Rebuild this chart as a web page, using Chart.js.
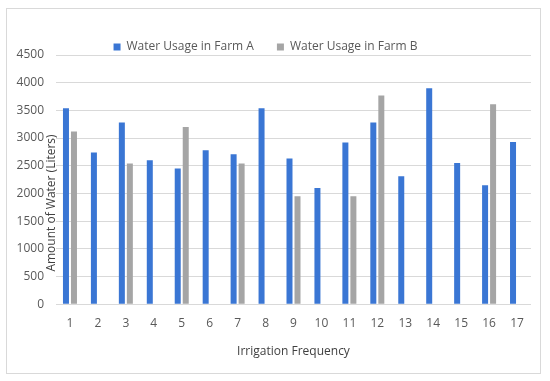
<!DOCTYPE html>
<html>
<head>
<meta charset="utf-8">
<script src="https://cdn.jsdelivr.net/npm/chart.js@4"></script>
<style>
  html, body { margin: 0; padding: 0; background: #ffffff; }
  #wrap { position: relative; width: 550px; height: 381px; }
  #frame { position: absolute; left: 6px; top: 8px; width: 533px; height: 364px; border: 1px solid #d9d9d9; pointer-events: none; }
  canvas { position: absolute; left: 0; top: 0; }
</style>
</head>
<body>
<div id="wrap">
  <div id="frame"></div>
  <canvas id="c" width="550" height="381"></canvas>
</div>
<script>
const categories = ['1','2','3','4','5','6','7','8','9','10','11','12','13','14','15','16','17'];
const farmA = [3540, 2740, 3280, 2600, 2450, 2780, 2710, 3540, 2630, 2100, 2920, 3280, 2310, 3900, 2550, 2150, 2930];
const farmB = [3120, 0, 2540, 0, 3200, 0, 2540, 0, 1950, 0, 1950, 3770, 0, 0, 0, 3610, 0];
const seriesNames = ['Water Usage in Farm A', 'Water Usage in Farm B'];
const xTitle = 'Irrigation Frequency';
const yTitle = 'Amount of Water (Liters)';

const FONT = "'Open Sans', 'Noto Sans', sans-serif";

const legendFit = {
  id: 'legendFit',
  beforeLayout(chart) {
    const lg = chart.legend;
    if (lg && !lg._patched) {
      const f = lg.fit;
      lg.fit = function () { f.call(this); this.height = 37; };
      lg._patched = true;
    }
  }
};

const yTitlePlugin = {
  id: 'yTitlePlugin',
  afterDraw(chart) {
    const ctx = chart.ctx;
    ctx.save();
    ctx.translate(52, 203);
    ctx.rotate(-Math.PI / 2);
    ctx.font = "12px " + FONT;
    ctx.fillStyle = '#404040';
    ctx.textAlign = 'center';
    ctx.textBaseline = 'middle';
    ctx.fillText(yTitle, 0, 0);
    ctx.restore();
  }
};

new Chart(document.getElementById('c'), {
  type: 'bar',
  data: {
    labels: categories,
    datasets: [
      { label: seriesNames[0], data: farmA, backgroundColor: '#3A76D4', borderWidth: 0,
        categoryPercentage: 0.573, barPercentage: 0.75 },
      { label: seriesNames[1], data: farmB, backgroundColor: '#A5A5A5', borderWidth: 0,
        categoryPercentage: 0.573, barPercentage: 0.75 }
    ]
  },
  options: {
    responsive: false,
    devicePixelRatio: 1,
    animation: false,
    layout: { padding: { left: 0, right: 19, top: 18, bottom: 18 } },
    plugins: {
      legend: {
        position: 'top',
        labels: {
          boxWidth: 7, boxHeight: 7, padding: 23,
          color: '#595959',
          font: { family: FONT, size: 12 }
        }
      },
      tooltip: { enabled: false },
      title: { display: false }
    },
    scales: {
      x: {
        grid: { display: false, drawTicks: false },
        border: { display: false },
        ticks: { color: '#595959', font: { family: FONT, size: 12 }, padding: 12, maxRotation: 0, autoSkip: false },
        title: { display: true, text: xTitle, color: '#404040', font: { family: FONT, size: 12 }, padding: { top: 2, bottom: 4 } }
      },
      y: {
        min: 0, max: 4500,
        afterFit(s) { s.width = 56; },
        grid: { color: '#d9d9d9', lineWidth: 1, drawTicks: false },
        border: { display: false },
        ticks: { stepSize: 500, color: '#595959', font: { family: FONT, size: 12 }, padding: 12,
                 callback: (v) => String(v) }
      }
    }
  },
  plugins: [legendFit, yTitlePlugin]
});
</script>
</body>
</html>
